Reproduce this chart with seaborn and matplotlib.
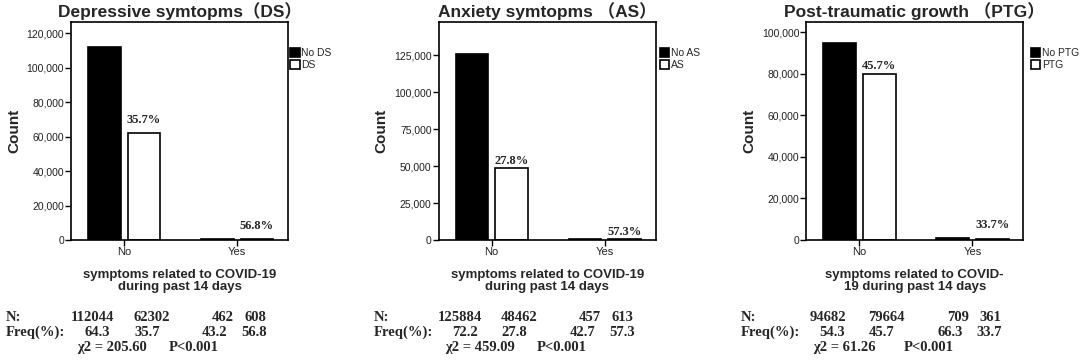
import pandas as pd
import matplotlib
matplotlib.use("Agg")
import matplotlib.pyplot as plt
import seaborn as sns
from matplotlib.ticker import MultipleLocator, FuncFormatter

covid = ["No", "Yes"]

ds_labels = ["No DS", "DS"]
ds_neg = [112044, 462]
ds_pos = [62302, 608]
ds_freq_neg = [64.3, 43.2]
ds_freq_pos = [35.7, 56.8]
ds_chi = "205.60"

as_labels = ["No AS", "AS"]
as_neg = [125884, 457]
as_pos = [48462, 613]
as_freq_neg = [72.2, 42.7]
as_freq_pos = [27.8, 57.3]
as_chi = "459.09"

ptg_labels = ["No PTG", "PTG"]
ptg_neg = [94682, 709]
ptg_pos = [79664, 361]
ptg_freq_neg = [54.3, 66.3]
ptg_freq_pos = [45.7, 33.7]
ptg_chi = "61.26"

titles = ["Depressive symtopms（DS）", "Anxiety symtopms （AS）", "Post-traumatic growth （PTG）"]
xlabels = ["symptoms related to COVID-19\nduring past 14 days",
           "symptoms related to COVID-19\nduring past 14 days",
           "symptoms related to COVID-\n19 during past 14 days"]

panels = [
    dict(labels=ds_labels, neg=ds_neg, pos=ds_pos, fneg=ds_freq_neg, fpos=ds_freq_pos, chi=ds_chi,
         ymax=126500, step=20000, pads=[5, 5], leg_x=1.01),
    dict(labels=as_labels, neg=as_neg, pos=as_pos, fneg=as_freq_neg, fpos=as_freq_pos, chi=as_chi,
         ymax=147500, step=25000, pads=[1, 1], leg_x=1.02),
    dict(labels=ptg_labels, neg=ptg_neg, pos=ptg_pos, fneg=ptg_freq_neg, fpos=ptg_freq_pos, chi=ptg_chi,
         ymax=104800, step=20000, pads=[2, 6], leg_x=1.035),
]

sns.set_style("ticks")
plt.rcParams["font.family"] = ["Liberation Sans", "Noto Sans CJK SC"]
serif = "Liberation Serif"

fig, axes = plt.subplots(1, 3, figsize=(10.84, 3.63), dpi=100)
fig.subplots_adjust(left=0.0655, right=0.944, bottom=0.339, top=0.939, wspace=0.693)

for ax, p, title, xlab in zip(axes, panels, titles, xlabels):
    df = pd.DataFrame({
        "covid": covid * 2,
        "group": [p["labels"][0]] * 2 + [p["labels"][1]] * 2,
        "count": p["neg"] + p["pos"],
    })
    sns.barplot(data=df, x="covid", y="count", hue="group", order=covid,
                hue_order=p["labels"], palette=["black", "white"],
                edgecolor="black", linewidth=1.2, width=0.7, gap=0.17,
                errorbar=None, ax=ax)
    ax.set_xlim(-0.47, 1.45)
    ax.set_ylim(0, p["ymax"])
    ax.yaxis.set_major_locator(MultipleLocator(p["step"]))
    ax.yaxis.set_major_formatter(FuncFormatter(lambda v, _: f"{v:,.0f}"))
    for s in ax.spines.values():
        s.set_color("black")
        s.set_linewidth(1.2)
    ax.tick_params(direction="out", length=4, width=1, color="black")
    ax.tick_params(axis="y", labelsize=7.5, labelcolor="#222222", pad=1)
    ax.tick_params(axis="x", labelsize=8, labelcolor="#222222", pad=1)

    ax.set_title(title, fontsize=12.5, fontweight="bold", pad=4)
    ax.set_ylabel("Count", fontsize=11, fontweight="bold")
    ax.set_xlabel(xlab, fontsize=9.5, fontweight="bold", linespacing=0.95)
    ax.xaxis.set_label_coords(0.5, -0.135)

    # percentage above the positive-group bars
    for bar, f, pad in zip(ax.containers[1], p["fpos"], p["pads"]):
        ax.annotate(f"{f}%", (bar.get_x() + bar.get_width() / 2, bar.get_height()),
                    xytext=(0, pad), textcoords="offset points", ha="center", va="bottom",
                    fontsize=9, fontweight="bold", family=serif)

    handles, labels = ax.get_legend_handles_labels()
    ax.legend(handles, labels, loc="upper left", bbox_to_anchor=(p["leg_x"], 0.88),
              frameon=False, fontsize=7.5, handlelength=0.9, handleheight=0.9,
              handletextpad=0.15, labelspacing=0.15, borderaxespad=0, borderpad=0)

    # summary table below the axis
    tr = ax.get_xaxis_transform()
    tstyle = dict(fontsize=10.5, fontweight="bold", family=serif, va="center", clip_on=False)
    ax.text(-0.3, -0.358, "N:", transform=ax.transAxes, ha="left", **tstyle)
    ax.text(-0.3, -0.425, "Freq(%):", transform=ax.transAxes, ha="left", **tstyle)
    n_off = [(-0.28, 0.24), (-0.13, 0.16)]
    f_off = [(-0.24, 0.2), (-0.2, 0.15)]
    for i in range(len(covid)):
        ax.text(i + n_off[i][0], -0.358, f"{p['neg'][i]}", transform=tr, ha="center", **tstyle)
        ax.text(i + n_off[i][1], -0.358, f"{p['pos'][i]}", transform=tr, ha="center", **tstyle)
        ax.text(i + f_off[i][0], -0.425, f"{p['fneg'][i]}", transform=tr, ha="center", **tstyle)
        ax.text(i + f_off[i][1], -0.425, f"{p['fpos'][i]}", transform=tr, ha="center", **tstyle)
    ax.text(0.03, -0.495, f"χ2 = {p['chi']}", transform=ax.transAxes, ha="left", **tstyle)
    ax.text(0.45, -0.495, "P<0.001", transform=ax.transAxes, ha="left", **tstyle)

fig.savefig("out.png", dpi=100)
